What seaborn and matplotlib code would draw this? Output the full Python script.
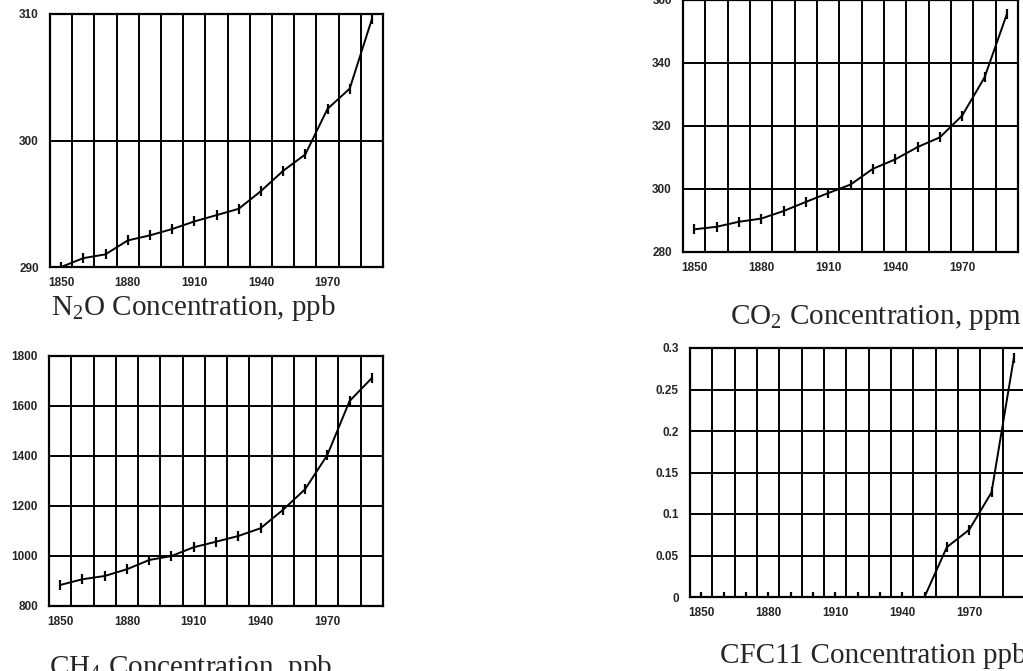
import seaborn as sns
import matplotlib.pyplot as plt
import matplotlib.ticker as mticker

# data (decade steps)
years = [1850, 1860, 1870, 1880, 1890, 1900, 1910, 1920, 1930, 1940, 1950, 1960, 1970, 1980, 1990]
n2o = [290.0, 290.7, 291.0, 292.1, 292.5, 293.0, 293.6, 294.1, 294.6, 296.0, 297.6, 298.9, 302.5, 304.1, 309.6]
co2 = [287.2, 288.0, 289.6, 290.6, 293.0, 295.9, 298.7, 301.4, 306.4, 309.4, 313.3, 316.4, 323.3, 335.4, 355.5]
ch4 = [884, 907, 920, 947, 984, 1000, 1035, 1057, 1080, 1111, 1184, 1267, 1404, 1620, 1712]
cfc11 = [0, 0, 0, 0, 0, 0, 0, 0, 0, 0, 0, 0.060, 0.081, 0.126, 0.288]

x_labels = [1850, 1880, 1910, 1940, 1970]
n2o_ticks = [290, 300, 310]
co2_ticks = [280, 300, 320, 340, 360]
ch4_ticks = [800, 1000, 1200, 1400, 1600, 1800]
cfc11_ticks = [0, 0.05, 0.1, 0.15, 0.2, 0.25, 0.3]

titles = ["N$_\\mathregular{2}$O Concentration, ppb",
          "CO$_\\mathregular{2}$ Concentration, ppm",
          "CH$_\\mathregular{4}$ Concentration, ppb",
          "CFC11 Concentration ppb"]

sns.set_style("white")
plt.rcParams['font.family'] = ['Liberation Sans', 'DejaVu Sans']

W, H = 1023, 671
fig = plt.figure(figsize=(W / 100, H / 100), dpi=100)


def box(l, t, r, b):
    return [l / W, 1 - b / H, (r - l) / W, (b - t) / H]


panels = [
    (n2o, n2o_ticks, box(50, 14, 383, 267), titles[0], (193, 315, 'center')),
    (co2, co2_ticks, box(683, 0, 1018, 252), titles[1], (876, 324, 'center')),
    (ch4, ch4_ticks, box(49, 356, 383, 606), titles[2], (191, 675, 'center')),
    (cfc11, cfc11_ticks, box(690, 348, 1025, 597), titles[3], (720, 663, 'left')),
]

for vals, yt, rect, title, (tx, ty, ha) in panels:
    ax = fig.add_axes(rect)
    sns.lineplot(x=years, y=vals, ax=ax, color='black', lw=1.4,
                 marker='|', markersize=7, markeredgewidth=1.6,
                 markeredgecolor='black')
    ax.set_xlim(1845, 1995)
    ax.set_ylim(yt[0], yt[-1])
    ax.set_xticks(x_labels)
    ax.set_xticks(range(1845, 1996, 10), minor=True)
    ax.set_yticks(yt)
    ax.yaxis.set_major_formatter(mticker.FormatStrFormatter('%g'))
    ax.grid(False)
    ax.grid(True, which='minor', axis='x', color='black', lw=1.4)
    ax.grid(True, which='major', axis='y', color='black', lw=1.4)
    ax.tick_params(axis='x', which='major', length=0, pad=7)
    ax.tick_params(axis='x', which='minor', length=5, width=1.4, direction='out')
    ax.tick_params(axis='y', length=4, width=1.4, direction='out', pad=4)
    ax.tick_params(labelsize=8.5)
    for lab in ax.get_xticklabels() + ax.get_yticklabels():
        lab.set_fontweight('bold')
    for sp in ax.spines.values():
        sp.set_color('black')
        sp.set_linewidth(1.6)
    ax.set_xlabel('')
    ax.set_ylabel('')
    fig.text(tx / W, 1 - ty / H, title, ha=ha, va='baseline', fontsize=21,
             family='Liberation Serif')

fig.savefig('out.png', dpi=100)
